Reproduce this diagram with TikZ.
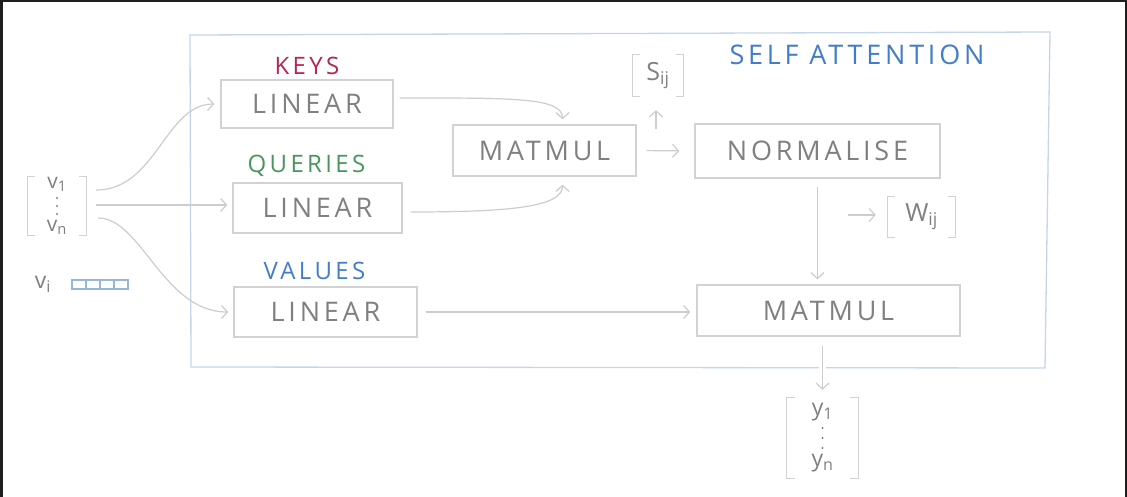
\documentclass[tikz,border=0pt]{standalone}
\usepackage{fontspec}
\setmainfont{Open Sans}
\newfontfamily\hand[LetterSpace=14]{Open Sans}
\usetikzlibrary{positioning,arrows.meta}
\definecolor{boxgray}{RGB}{210,210,210}
\definecolor{textgray}{RGB}{128,128,128}
\definecolor{arrowgray}{RGB}{205,205,205}
\definecolor{framebl}{RGB}{196,214,234}
\definecolor{cellbl}{RGB}{150,182,222}
\definecolor{keyred}{RGB}{184,36,86}
\definecolor{querygreen}{RGB}{72,150,92}
\definecolor{valueblue}{RGB}{66,126,200}
\definecolor{darkedge}{RGB}{30,30,30}
\newcommand{\vecbrackets}[2]{%
  \draw[bracket] ([xshift=#2]#1.north west) -| (#1.south west) -- ++(#2,0);
  \draw[bracket] ([xshift=-#2]#1.north east) -| (#1.south east) -- ++(-#2,0);}

\begin{document}
\begin{tikzpicture}[x=1pt,y=-1pt,
block/.style={draw=boxgray, line width=1.3pt, text=textgray, inner sep=0pt,
  font={\hand\fontsize{27}{27}\selectfont}},
tag/.style={inner sep=0pt, font={\hand\fontsize{24}{24}\selectfont}},
flow/.style={draw=arrowgray, line width=1.2pt, -{Straight Barb[length=6pt,width=13pt]}},
bracket/.style={draw=boxgray, line width=1.3pt},
vec/.style={text=textgray, inner sep=0pt, align=center,
  font={\fontsize{20}{22}\selectfont}},
vdot/.style={fill=textgray, draw=none},
]
\useasboundingbox (0,0) rectangle (1127,497);
\fill[white] (0,0) rectangle (1127,497);
\fill[darkedge] (0,0) rectangle (2.5,497);
\fill[darkedge] (0,0) rectangle (1127,2.5);
\fill[darkedge] (1124.5,0) rectangle (1127,497);

% self attention frame
\draw[framebl, line width=1.3pt] (190,35) -- (1050,32) -- (1045,368) -- (191,367) -- cycle;
\node[tag, text=valueblue, font={\hand\fontsize{27}{27}\selectfont}] (selfatt) at (857,55) {SELF ATTENTION};

% input
\node[vec, minimum width=58pt, minimum height=58pt, font={\fontsize{21}{21}\selectfont}] (vin) at (57,206)
  {v\textsubscript{1}\\[22pt]v\textsubscript{n}};
\vecbrackets{vin}{7pt}
\foreach \d in {-8,0,8}
  \fill[vdot] ([yshift=\d pt]vin.center) circle (1.2pt);
\node[vec, font={\fontsize{23}{23}\selectfont}] (vi) at (43,284) {v\textsubscript{i}};
\draw[cellbl, line width=1.1pt] (72,280) rectangle (128,289);
\foreach \x in {86,100,114}
  \draw[cellbl, line width=1.1pt] (\x,280) -- (\x,289);

% linear layers
\node[block, minimum width=172pt, minimum height=48pt] (keyslin) at (307,104) {LINEAR};
\node[block, minimum width=169pt, minimum height=50pt] (querylin) at (317.5,208) {LINEAR};
\node[block, minimum width=183pt, minimum height=50pt] (valuelin) at (325.5,312) {LINEAR};
\node[tag, text=keyred, above=4pt of keyslin] (keys) {KEYS};
\node[tag, text=querygreen, above=6pt of querylin, xshift=-11pt] (queries) {QUERIES};
\node[tag, text=valueblue, above=6pt of valuelin, xshift=-11pt] (values) {VALUES};

% attention
\node[block, minimum width=183pt, minimum height=51pt] (matmul1) at (544.5,150.5) {MATMUL};
\node[block, minimum width=245pt, minimum height=54pt] (normalise) at (817.5,151) {NORMALISE};
\node[block, minimum width=263pt, minimum height=51pt] (matmul2) at (828.5,310.5) {MATMUL};

\node[vec, minimum width=50pt, minimum height=41pt, font={\fontsize{25}{25}\selectfont}] (sij) at (658,75.5) {S\textsubscript{ij}};
\vecbrackets{sij}{7pt}
\node[vec, minimum width=67pt, minimum height=40pt, font={\fontsize{25}{25}\selectfont}] (wij) at (921.5,217) {W\textsubscript{ij}};
\vecbrackets{wij}{7pt}
\coordinate (sijfoot) at (656,129);
\coordinate (wijfoot) at (848,215);

% output
\node[vec, minimum width=71pt, minimum height=80pt, font={\fontsize{23}{25}\selectfont}] (yout) at (822.5,438)
  {y\textsubscript{1}\\[26pt]y\textsubscript{n}};
\vecbrackets{yout}{8pt}
\foreach \d in {-10,0,10}
  \fill[vdot] ([yshift=\d pt]yout.center) circle (1.2pt);

% connectors
\draw[flow, shorten <=10pt, shorten >=6pt] ([yshift=16pt]vin.east) .. controls +(70,0) and +(-55,0) .. (keyslin.west);
\draw[flow, shorten <=10pt, shorten >=5pt] ([yshift=1pt]vin.east) -- ([yshift=3pt]querylin.west);
\draw[flow, shorten <=12pt, shorten >=5pt] ([yshift=-12pt]vin.east) .. controls +(55,0) and +(-70,0) .. (valuelin.west);
\draw[flow, shorten <=6pt] ([yshift=6pt]keyslin.east) .. controls +(120,0) and +(0,-22) .. ([xshift=18pt,yshift=5pt]matmul1.north);
\draw[flow, shorten <=8pt] ([yshift=-4pt]querylin.east) .. controls +(110,0) and +(0,22) .. ([xshift=18pt,yshift=-8pt]matmul1.south);
\draw[flow, shorten <=10pt, shorten >=15pt] (matmul1.east) -- (normalise.west);
\draw[flow, shorten >=14pt] (sijfoot) -- (sijfoot |- sij.south);
\draw[flow, shorten >=12pt] (wijfoot) -- (wijfoot -| wij.west);
\draw[flow, shorten <=8pt, shorten >=5pt] (normalise.south) -- (normalise.south |- matmul2.north);
\draw[flow, shorten <=8pt, shorten >=6pt] (valuelin.east) -- (valuelin.east -| matmul2.west);
\draw[flow, shorten <=9pt, shorten >=8pt, preaction={draw=white, line width=7pt, -}]
  (yout.north |- matmul2.south) -- (yout.north);
\end{tikzpicture}
\end{document}
